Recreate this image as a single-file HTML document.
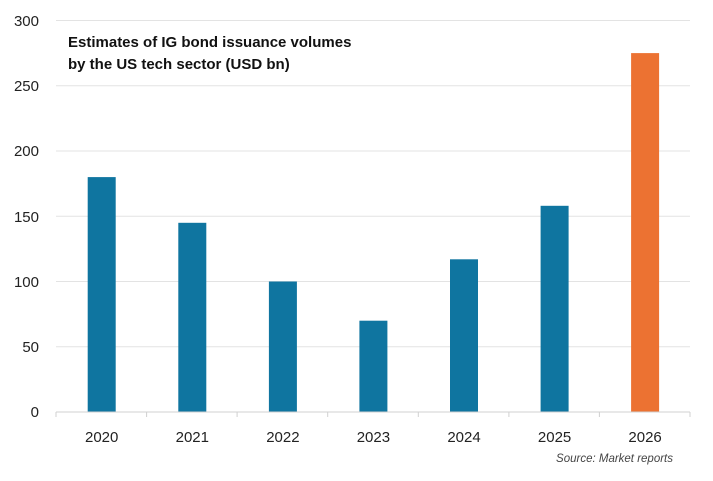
<!DOCTYPE html><html><head><style>body{margin:0;background:#fff}</style></head><body>
<svg width="713" height="476" xmlns="http://www.w3.org/2000/svg" font-family="Liberation Sans, sans-serif">
<g stroke="#e3e3e3" stroke-width="1">
<line x1="56" x2="690" y1="20.5" y2="20.5"/><line x1="56" x2="690" y1="85.8" y2="85.8"/>
<line x1="56" x2="690" y1="151" y2="151"/><line x1="56" x2="690" y1="216.3" y2="216.3"/>
<line x1="56" x2="690" y1="281.5" y2="281.5"/><line x1="56" x2="690" y1="346.8" y2="346.8"/>
</g>
<g fill="#0f75a0">
<rect x="87.7" y="177.1" width="28" height="234.9"/>
<rect x="178.3" y="222.8" width="28" height="189.2"/>
<rect x="268.9" y="281.5" width="28" height="130.5"/>
<rect x="359.4" y="320.7" width="28" height="91.3"/>
<rect x="450" y="259.3" width="28" height="152.7"/>
<rect x="540.6" y="205.8" width="28" height="206.2"/>
</g>
<rect x="631.1" y="53.1" width="28" height="358.9" fill="#ec7232"/>
<g stroke="#d0d0d0"><line x1="56" x2="690" y1="412" y2="412"/>
<line x1="56" x2="56" y1="412" y2="417"/><line x1="146.6" x2="146.6" y1="412" y2="417"/><line x1="237.1" x2="237.1" y1="412" y2="417"/><line x1="327.7" x2="327.7" y1="412" y2="417"/><line x1="418.3" x2="418.3" y1="412" y2="417"/><line x1="508.9" x2="508.9" y1="412" y2="417"/><line x1="599.4" x2="599.4" y1="412" y2="417"/><line x1="690" x2="690" y1="412" y2="417"/></g>
<g font-size="15" fill="#222" text-anchor="end">
<text x="39" y="26">300</text><text x="39" y="91">250</text><text x="39" y="156">200</text><text x="39" y="222">150</text><text x="39" y="287">100</text><text x="39" y="352">50</text><text x="39" y="417">0</text></g>
<g font-size="15" fill="#222" text-anchor="middle">
<text x="101.7" y="442">2020</text><text x="192.3" y="442">2021</text><text x="282.9" y="442">2022</text><text x="373.4" y="442">2023</text><text x="464" y="442">2024</text><text x="554.6" y="442">2025</text><text x="645.1" y="442">2026</text></g>
<g font-size="15" font-weight="bold" fill="#111"><text x="68" y="47">Estimates of IG bond issuance volumes</text><text x="68" y="69">by the US tech sector (USD bn)</text></g>
<text x="673" y="462" font-size="11.5" font-style="italic" fill="#444" text-anchor="end">Source: Market reports</text>
</svg></body></html>
